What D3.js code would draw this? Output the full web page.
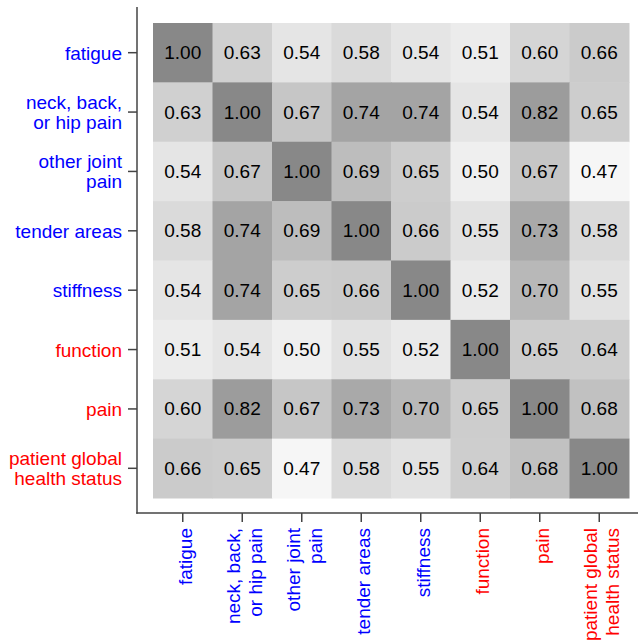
<!DOCTYPE html>
<html>
<head>
<meta charset="utf-8">
<script src="https://cdn.jsdelivr.net/npm/d3@7/dist/d3.min.js"></script>
<style>
  html, body { margin: 0; padding: 0; background: #fff; }
  svg { display: block; font-family: "Liberation Sans", Arial, Helvetica, sans-serif; }
</style>
</head>
<body>
<svg id="chart" width="638" height="642"></svg>
<script>
const categories = ["fatigue", "neck, back, or hip pain", "other joint pain", "tender areas",
  "stiffness", "function", "pain", "patient global health status"];
const labelLines = [["fatigue"], ["neck, back,", "or hip pain"], ["other joint", "pain"], ["tender areas"],
  ["stiffness"], ["function"], ["pain"], ["patient global", "health status"]];
const labelColors = ["blue", "blue", "blue", "blue", "blue", "red", "red", "red"];
const matrix = [
  [1.00, 0.63, 0.54, 0.58, 0.54, 0.51, 0.60, 0.66],
  [0.63, 1.00, 0.67, 0.74, 0.74, 0.54, 0.82, 0.65],
  [0.54, 0.67, 1.00, 0.69, 0.65, 0.50, 0.67, 0.47],
  [0.58, 0.74, 0.69, 1.00, 0.66, 0.55, 0.73, 0.58],
  [0.54, 0.74, 0.65, 0.66, 1.00, 0.52, 0.70, 0.55],
  [0.51, 0.54, 0.50, 0.55, 0.52, 1.00, 0.65, 0.64],
  [0.60, 0.82, 0.67, 0.73, 0.70, 0.65, 1.00, 0.68],
  [0.66, 0.65, 0.47, 0.58, 0.55, 0.64, 0.68, 1.00]
];

const svg = d3.select("#chart");
const x = d3.scaleBand().domain(categories).range([153, 629]).padding(0);
const y = d3.scaleBand().domain(categories).range([23, 498]).padding(0);
const grayScale = d3.scaleLinear()
  .domain([0.47, 0.54, 0.60, 0.66, 0.70, 0.74, 0.82, 1.0])
  .range([246, 229, 213, 203, 184, 164, 156, 136])
  .clamp(true);
const fill = v => { const g = Math.round(grayScale(v)); return `rgb(${g},${g},${g})`; };

const cells = [];
matrix.forEach((row, i) => row.forEach((v, j) => cells.push({ r: categories[i], c: categories[j], v })));

svg.append("g").selectAll("rect").data(cells).join("rect")
  .attr("x", d => x(d.c)).attr("y", d => y(d.r))
  .attr("width", x.bandwidth() + 0.5).attr("height", y.bandwidth() + 0.5)
  .attr("fill", d => fill(d.v));

svg.append("g").selectAll("text").data(cells).join("text")
  .attr("x", d => x(d.c) + x.bandwidth() / 2)
  .attr("y", d => y(d.r) + y.bandwidth() / 2)
  .attr("text-anchor", "middle").attr("dominant-baseline", "central")
  .attr("font-size", 19).attr("fill", "#000")
  .text(d => d.v.toFixed(2));

const axisColor = "#444";
const lh = 20;

// Y axis
const yAxis = svg.append("g").attr("transform", "translate(137,0)")
  .call(d3.axisLeft(y).tickSize(9).tickPadding(6).tickSizeOuter(0));
yAxis.select(".domain").remove();
yAxis.selectAll(".tick line").attr("stroke", axisColor).attr("stroke-width", 1.5);
yAxis.selectAll(".tick text").each(function(d) {
  const i = categories.indexOf(d);
  const t = d3.select(this).text(null)
    .attr("font-size", 19).attr("fill", labelColors[i]).attr("font-family", null)
    .attr("dy", null).attr("dominant-baseline", "central");
  const lines = labelLines[i];
  lines.forEach((ln, k) => {
    t.append("tspan").attr("x", -15).attr("y", (k - (lines.length - 1) / 2) * lh).text(ln);
  });
});

// X axis
const xAxis = svg.append("g").attr("transform", "translate(0,513)")
  .call(d3.axisBottom(x).tickSize(9).tickPadding(6).tickSizeOuter(0));
xAxis.select(".domain").remove();
xAxis.selectAll(".tick line").attr("stroke", axisColor).attr("stroke-width", 1.5);
xAxis.selectAll(".tick text").each(function(d) {
  const i = categories.indexOf(d);
  const t = d3.select(this).text(null)
    .attr("font-size", 19).attr("fill", labelColors[i]).attr("font-family", null)
    .attr("dy", null).attr("y", null)
    .attr("transform", "translate(2,15) rotate(-90)")
    .attr("text-anchor", "end").attr("dominant-baseline", "central");
  const lines = labelLines[i];
  lines.forEach((ln, k) => {
    t.append("tspan").attr("x", 0).attr("y", (k - (lines.length - 1) / 2) * (lh + 2)).text(ln);
  });
});

// Axis lines
svg.append("line").attr("x1", 137).attr("x2", 137).attr("y1", 7).attr("y2", 513.75)
  .attr("stroke", axisColor).attr("stroke-width", 1.5);
svg.append("line").attr("x1", 136.25).attr("x2", 638).attr("y1", 513).attr("y2", 513)
  .attr("stroke", axisColor).attr("stroke-width", 1.5);
</script>
</body>
</html>
